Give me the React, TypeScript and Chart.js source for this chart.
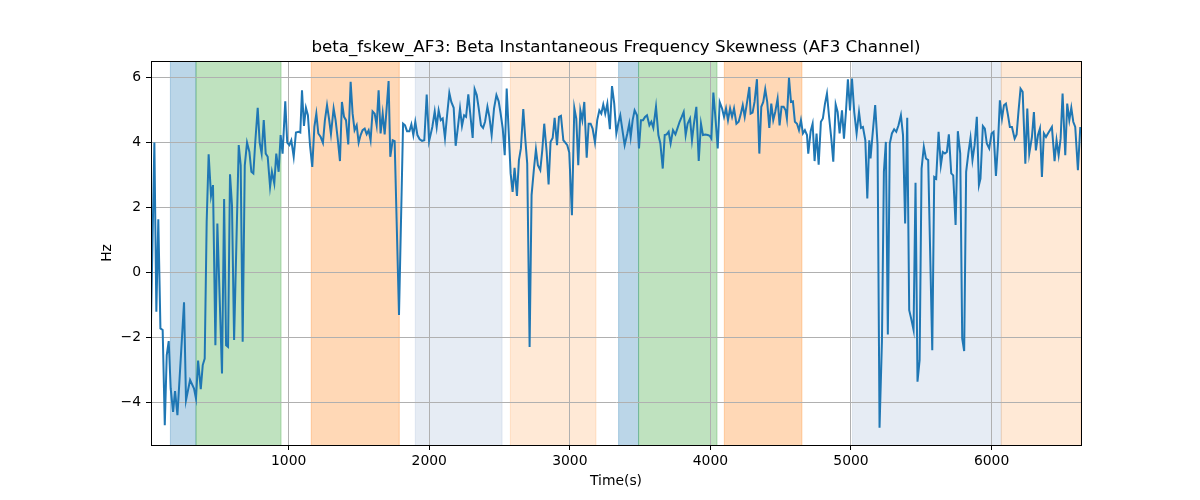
import React, { useEffect, useRef } from 'react';
import { Chart, registerables } from 'chart.js';

Chart.register(...registerables);

const chartTitle = 'beta_fskew_AF3: Beta Instantaneous Frequency Skewness (AF3 Channel)';
const xLabel = 'Time(s)';
const yLabel = 'Hz';

const times = [
  21, 45, 59, 73, 88, 104, 119, 133, 147, 161, 178, 192, 209, 256, 270, 299, 327, 341, 356, 375,
  389, 403, 417, 431, 448, 462, 479, 493, 526, 541, 555, 569, 583, 597, 612, 645, 659, 673, 688, 704,
  721, 735, 749, 763, 780, 794, 808, 823, 837, 851, 868,
  881, 898, 912, 929, 943, 957, 976, 990, 1005, 1019, 1036, 1052, 1071, 1083, 1095, 1109, 1123, 1137, 1152, 1168,
  1183, 1197, 1211, 1228, 1244, 1258, 1273, 1287, 1301, 1320, 1334, 1349, 1365, 1379, 1394, 1408, 1424, 1441, 1455, 1469,
  1484, 1498, 1512, 1526, 1541, 1555, 1569, 1583, 1597, 1612, 1626, 1640, 1654, 1669, 1683, 1697, 1711, 1723,
  1740, 1754, 1785, 1814, 1828, 1842, 1859, 1873, 1887, 1901, 1916, 1932, 1949, 1965, 1982, 1999, 2022, 2039, 2053, 2067,
  2082, 2096, 2112, 2127, 2143, 2157, 2174, 2188, 2205, 2219, 2233, 2248, 2262, 2278, 2309, 2323, 2338, 2352, 2368, 2383,
  2397, 2414, 2428, 2444, 2461, 2478, 2494, 2508, 2523, 2537, 2551,
  2579, 2593, 2607, 2624, 2638, 2652, 2669, 2683, 2697, 2714, 2728, 2745, 2759, 2773, 2790, 2804, 2818, 2835, 2849, 2863,
  2878, 2892, 2909, 2923, 2937, 2954, 2968, 2982, 2996, 3015, 3032, 3046, 3060, 3075, 3089, 3103, 3120, 3134, 3148, 3162,
  3179, 3195, 3210, 3224, 3238, 3252, 3267, 3285, 3300, 3316, 3331, 3347, 3359, 3376, 3390, 3409, 3423,
  3433, 3447, 3461, 3478, 3492, 3506, 3521, 3535, 3549, 3566, 3580, 3594, 3613, 3630, 3644, 3661, 3675, 3689, 3703, 3717,
  3734, 3751, 3765, 3781, 3796, 3810, 3824, 3838, 3855, 3869, 3883, 3900, 3917, 3933, 3947, 3964, 3981, 3995, 4007, 4021,
  4038, 4052, 4066, 4083, 4097, 4111, 4125, 4140, 4154, 4168, 4185, 4201, 4215, 4230, 4244, 4258, 4277,
  4286, 4300, 4314, 4331, 4348, 4362, 4376, 4390, 4404, 4419, 4433, 4447, 4461, 4478, 4492, 4506, 4521, 4535, 4544, 4559,
  4573, 4587, 4601, 4616, 4630, 4644, 4658, 4672, 4687, 4696, 4713, 4727, 4741, 4755, 4770, 4786, 4800, 4815, 4829, 4843,
  4860, 4874, 4891, 4905, 4919, 4936, 4950, 4964, 4978, 4993, 5007, 5023, 5040, 5057, 5071, 5085, 5102, 5116, 5130,
  5139, 5153, 5172, 5189, 5203, 5220, 5234, 5248, 5262, 5276, 5291, 5307, 5322, 5338, 5355, 5370, 5385, 5400, 5414, 5428,
  5445, 5459, 5473, 5488, 5502, 5518, 5533, 5549, 5578, 5592, 5606, 5623, 5639, 5653, 5668, 5682, 5696, 5713, 5727, 5744,
  5760, 5777, 5791, 5805, 5819, 5836, 5850, 5864, 5879, 5895, 5910, 5921, 5938, 5952, 5966, 5983,
  6000, 6014, 6031, 6045, 6059, 6074, 6088, 6102, 6116, 6130, 6145, 6164, 6178, 6192, 6206, 6221, 6240, 6254, 6268, 6287,
  6301, 6315, 6330, 6344, 6358, 6372, 6387, 6401, 6415, 6429, 6448, 6462, 6477, 6491, 6505, 6524, 6538, 6553, 6567, 6581,
  6595, 6614, 6631,
];

const values = [
  -1.52, 4.0, -1.21, 1.64, -1.72, -1.77, -4.70, -2.54, -2.11, -3.57, -4.29, -3.65, -4.39, -0.92, -3.93, -3.31, -3.57, -3.88, -2.71, -3.59,
  -2.85, -2.65, 1.56, 3.64, 2.36, 2.69, -2.24, 1.51, -3.11, 2.26, -2.24, -2.29, 3.02, 2.07, -2.08, 3.92, 3.30, -2.13, 3.30, 4.0,
  3.71, 3.10, 3.05, 4.04, 5.07, 4.0, 3.66, 4.69, 3.66, 3.56, 2.64,
  3.10, 2.74, 3.66, 3.10, 4.23, 3.66, 5.27, 4.0, 3.92, 4.07, 3.56, 4.31, 4.33, 4.31, 5.61, 4.51, 5.07, 4.84, 3.92, 3.25,
  4.48, 4.89, 4.28, 4.17, 3.99, 4.69, 5.15, 4.74, 4.26, 5.05, 4.69, 4.12, 3.43, 5.25, 4.79, 4.69, 3.94, 5.87, 4.89, 4.38,
  4.53, 4.0, 4.23, 4.38, 4.43, 4.26, 4.38, 4.07, 4.96, 4.89, 4.53, 5.61, 4.28, 4.89, 4.25, 5.05, 5.89, 3.56,
  4.07, 4.04, -1.31, 4.58, 4.53, 4.35, 4.35, 4.56, 4.23, 4.64, 4.23, 4.10, 4.05, 4.07, 5.48, 4.04, 4.48, 4.96, 4.48, 4.99,
  4.69, 4.74, 4.14, 4.84, 5.53, 5.25, 5.07, 3.90, 4.51, 5.05, 4.51, 4.84, 4.79, 5.48, 4.14, 5.64, 5.46, 5.05, 4.53, 4.45,
  4.64, 5.10, 4.79, 4.23, 5.05, 5.46, 5.27, 4.89, 4.43, 3.61, 5.66,
  3.05, 2.48, 3.22, 2.36, 3.46, 3.82, 5.03, 4.12, 3.35, -2.29, 2.38, 3.20, 3.79, 3.30, 3.15, 3.76, 4.58, 3.73, 2.71, 4.02,
  4.14, 4.76, 3.92, 4.79, 4.82, 4.07, 4.0, 3.92, 3.69, 1.76, 5.07, 4.74, 3.30, 4.99, 4.69, 5.25, 3.53, 4.58, 4.58, 4.43,
  4.0, 4.69, 4.99, 4.89, 5.17, 4.89, 5.20, 4.41, 5.74, 5.20, 4.28, 4.64, 4.84, 4.33, 3.92, 4.28, 4.58,
  4.17, 4.69, 4.99, 4.84, 3.82, 4.69, 4.69, 4.79, 4.84, 4.53, 4.64, 4.45, 5.10, 4.23, 3.97, 3.20, 4.23, 4.25, 4.33, 3.97,
  4.38, 4.25, 4.43, 4.64, 4.79, 4.94, 4.23, 4.58, 4.74, 4.07, 4.58, 5.10, 3.43, 4.58, 4.23, 4.25, 4.23, 4.21, 4.12, 5.54,
  4.64, 3.82, 5.25, 5.05, 4.79, 5.05, 4.69, 5.05, 4.79, 5.05, 4.58, 4.64, 4.86, 5.15, 4.79, 5.17, 5.71,
  4.89, 4.92, 5.25, 5.95, 3.66, 5.10, 5.25, 5.64, 5.25, 4.45, 5.20, 4.69, 4.94, 5.35, 4.53, 5.10, 5.10, 4.99, 4.74, 5.99,
  5.25, 5.27, 4.64, 4.58, 4.38, 4.69, 4.28, 4.38, 4.23, 3.66, 4.35, 4.58, 3.43, 4.28, 3.32, 4.64, 4.74, 5.20, 5.51, 4.84,
  4.12, 3.41, 5.17, 4.94, 4.28, 4.99, 4.12, 4.94, 5.95, 4.99, 5.97, 4.94, 4.28, 4.94, 4.45, 4.48, 4.07, 2.28, 4.07,
  3.51, 4.23, 5.15, 3.92, -4.78, -2.13, 3.10, 4.02, -1.91, 3.97, 4.28, 4.41, 4.33, 4.53, 4.84, 4.23, 1.51, 4.76, -1.16, -1.42,
  -1.77, 2.76, -3.36, -2.70, 3.20, 3.87, 3.51, 3.46, -2.39, 2.94, 2.89, 4.33, 3.30, 3.71, 3.66, 3.71, 4.25, 3.05, 2.99, 1.46,
  4.35, 3.66, -2.03, -2.42, 3.10, 3.71, 4.14, 3.46, 3.92, 4.79, 2.69, 2.89, 4.51, 4.43, 3.97, 3.82,
  4.28, 4.33, 2.97, 3.92, 5.30, 4.74, 5.15, 5.20, 4.86, 4.48, 4.48, 4.12, 4.25, 4.99, 5.66, 5.56, 3.35, 5.05, 3.66, 4.17,
  4.94, 3.76, 4.23, 4.43, 2.94, 4.28, 4.17, 4.28, 4.38, 4.48, 3.43, 4.07, 3.61, 4.12, 5.51, 3.61, 5.20, 4.69, 5.07, 4.64,
  4.48, 3.15, 4.48,
];

const xTicks = [1000, 2000, 3000, 4000, 5000, 6000];
const yTicks = [-4, -2, 0, 2, 4, 6];

const spanStarts = [159, 341, 1161, 1901, 2577, 3347, 3489, 4099, 5011, 6069];
const spanEnds = [341, 946, 1787, 2518, 3186, 3489, 4047, 4651, 6069, 6636];
const spanKinds = ['blue', 'green', 'orange', 'lightblue', 'lightorange', 'blue', 'green', 'orange', 'lightblue', 'lightorange'];

const spanColors: Record<string, string> = {
  blue: 'rgba(31,119,180,0.3)',
  green: 'rgba(44,160,44,0.3)',
  orange: 'rgba(255,127,14,0.3)',
  lightblue: 'rgba(176,196,222,0.32)',
  lightorange: 'rgba(255,127,14,0.17)',
};

const FONT = '"DejaVu Sans", Verdana, sans-serif';

export default function App() {
  const ref = useRef<HTMLCanvasElement>(null);

  useEffect(() => {
    document.body.style.margin = '0';
    const canvas = ref.current;
    if (!canvas) return;

    const decor = {
      id: 'decor',
      beforeDraw(chart: any) {
        const { ctx, chartArea, scales } = chart;
        const xs = scales.x;
        ctx.save();
        ctx.fillStyle = '#ffffff';
        ctx.fillRect(0, 0, chart.width, chart.height);
        for (let i = 0; i < spanStarts.length; i++) {
          const x0 = xs.getPixelForValue(spanStarts[i]);
          const x1 = xs.getPixelForValue(spanEnds[i]);
          const c = spanColors[spanKinds[i]];
          ctx.fillStyle = c;
          ctx.fillRect(x0, chartArea.top, x1 - x0, chartArea.bottom - chartArea.top);
          ctx.strokeStyle = c;
          ctx.lineWidth = 1;
          ctx.beginPath();
          ctx.moveTo(x0, chartArea.top);
          ctx.lineTo(x0, chartArea.bottom);
          ctx.moveTo(x1, chartArea.top);
          ctx.lineTo(x1, chartArea.bottom);
          ctx.stroke();
        }
        ctx.restore();
      },
      afterDraw(chart: any) {
        const { ctx, chartArea } = chart;
        ctx.save();
        ctx.strokeStyle = '#000';
        ctx.lineWidth = 1;
        ctx.strokeRect(
          Math.round(chartArea.left) + 0.5,
          Math.round(chartArea.top) + 0.5,
          Math.round(chartArea.right - chartArea.left),
          Math.round(chartArea.bottom - chartArea.top)
        );
        ctx.fillStyle = '#000';
        ctx.textAlign = 'center';
        ctx.textBaseline = 'alphabetic';
        const cx = (chartArea.left + chartArea.right) / 2;
        ctx.font = `16.7px ${FONT}`;
        ctx.fillText(chartTitle, cx, 52);
        ctx.font = `13.9px ${FONT}`;
        ctx.fillText(xLabel, cx, 485);
        ctx.translate(107, (chartArea.top + chartArea.bottom) / 2);
        ctx.rotate(-Math.PI / 2);
        ctx.textBaseline = 'middle';
        ctx.fillText(yLabel, 0, 0);
        ctx.restore();
      },
    };

    const n = Math.min(times.length, values.length);
    const pts = [];
    for (let i = 0; i < n; i++) pts.push({ x: times[i], y: values[i] });

    const chart = new Chart(canvas, {
      type: 'line',
      data: {
        datasets: [
          {
            data: pts,
            borderColor: '#1f77b4',
            borderWidth: 2,
            pointRadius: 0,
            tension: 0,
            fill: false,
          },
        ],
      },
      options: {
        animation: false,
        responsive: false,
        maintainAspectRatio: false,
        devicePixelRatio: 1,
        layout: { padding: { top: 61, right: 119, left: 0, bottom: 0 } },
        plugins: {
          legend: { display: false },
          title: { display: false },
          tooltip: { enabled: false },
        },
        scales: {
          x: {
            type: 'linear',
            min: 21,
            max: 6636,
            afterBuildTicks: (s: any) => {
              s.ticks = xTicks.map((v) => ({ value: v }));
            },
            afterFit: (s: any) => {
              s.height = 55;
            },
            grid: { color: '#b0b0b0', lineWidth: 1, tickColor: '#000', tickLength: 5, tickWidth: 1, drawTicks: true },
            border: { display: true, color: '#000', width: 1 },
            ticks: {
              font: { family: FONT, size: 13.9 },
              color: '#000',
              padding: 3,
              maxRotation: 0,
              autoSkip: false,
              callback: (v: any) => String(v),
            },
          },
          y: {
            type: 'linear',
            min: -5.31,
            max: 6.51,
            afterBuildTicks: (s: any) => {
              s.ticks = yTicks.map((v) => ({ value: v }));
            },
            afterFit: (s: any) => {
              s.width = 151;
            },
            grid: { color: '#b0b0b0', lineWidth: 1, tickColor: '#000', tickLength: 5, tickWidth: 1, drawTicks: true },
            border: { display: true, color: '#000', width: 1 },
            ticks: {
              font: { family: FONT, size: 13.9 },
              color: '#000',
              padding: 5,
              autoSkip: false,
              callback: (v: any) => String(v).replace('-', '\u2212'),
            },
          },
        },
      },
      plugins: [decor],
    });

    return () => chart.destroy();
  }, []);

  return (
    <div style={{ width: 1200, height: 500 }}>
      <canvas ref={ref} width={1200} height={500} style={{ display: 'block', width: 1200, height: 500 }} />
    </div>
  );
}
